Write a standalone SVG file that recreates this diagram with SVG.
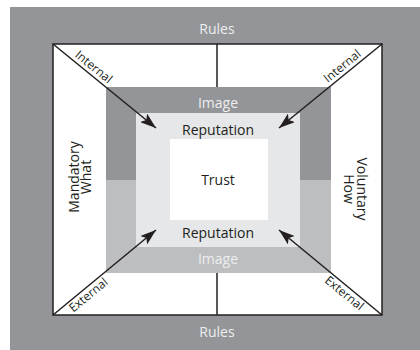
<svg xmlns="http://www.w3.org/2000/svg" width="420" height="350" viewBox="0 0 420 350">
  <style>
    text { font-family: "Open Sans", "Noto Sans", "DejaVu Sans", sans-serif; }
    .lbl { font-size: 14px; text-anchor: middle; fill: #231f20; }
    .lt { font-size: 14px; text-anchor: middle; fill: #eeeeef; }
    .diag { font-size: 12px; text-anchor: middle; fill: #231f20; }
    .arrow { stroke: #231f20; stroke-width: 1.5; fill: none; marker-end: url(#ah); }
    .rule { stroke: #231f20; stroke-width: 1.5; }
  </style>
  <defs>
    <marker id="ah" markerUnits="userSpaceOnUse" markerWidth="17" markerHeight="11" refX="16" refY="5.5" orient="auto">
      <path d="M0,0 L16,5.5 L0,11 L3.5,5.5 z" fill="#231f20"/>
    </marker>
  </defs>

  <g id="background">
    <rect x="10" y="7" width="410" height="343" fill="#939598"/>
  </g>

  <g id="frame">
    <rect x="53" y="44" width="329" height="271" fill="#ffffff" stroke="#231f20" stroke-width="1.5"/>
  </g>

  <g id="image">
    <rect x="106" y="87" width="225" height="93" fill="#939598"/>
    <rect x="106" y="180" width="225" height="93" fill="#bcbec0"/>
    <text class="lt" x="218" y="107.5">Image</text>
    <text class="lt" x="218" y="264">Image</text>
  </g>

  <g id="reputation">
    <rect x="136" y="113" width="164" height="134" fill="#e6e7e8"/>
    <text class="lbl" x="218" y="135">Reputation</text>
    <text class="lbl" x="218" y="238">Reputation</text>
  </g>

  <g id="trust">
    <rect x="170" y="139" width="98" height="81" fill="#ffffff"/>
    <text class="lbl" x="218" y="185">Trust</text>
  </g>

  <g id="rules">
    <text class="lt" x="217" y="34">Rules</text>
    <text class="lt" x="217" y="337">Rules</text>
  </g>

  <g id="mandatory">
    <text class="lbl" transform="translate(79,177) rotate(-90)">Mandatory</text>
    <text class="lbl" transform="translate(91,177) rotate(-90)">What</text>
  </g>

  <g id="voluntary">
    <text class="lbl" transform="translate(357,189) rotate(90)">Voluntary</text>
    <text class="lbl" transform="translate(344,189) rotate(90)">How</text>
  </g>

  <g id="connectors">
    <line class="rule" x1="217" y1="44" x2="217" y2="87"/>
    <line class="rule" x1="217" y1="273" x2="217" y2="315"/>
    <line class="arrow" x1="53" y1="44" x2="156" y2="128"/>
    <line class="arrow" x1="382" y1="44" x2="279" y2="128"/>
    <line class="arrow" x1="53" y1="315" x2="156" y2="230"/>
    <line class="arrow" x1="382" y1="315" x2="279" y2="230"/>
    <text class="diag" transform="translate(91.2,70) rotate(39.2)">Internal</text>
    <text class="diag" transform="translate(344.8,69.2) rotate(-39.2)">Internal</text>
    <text class="diag" transform="translate(91,298.2) rotate(-39.2)">External</text>
    <text class="diag" transform="translate(341.7,296.3) rotate(39.2)">External</text>
  </g>
</svg>
